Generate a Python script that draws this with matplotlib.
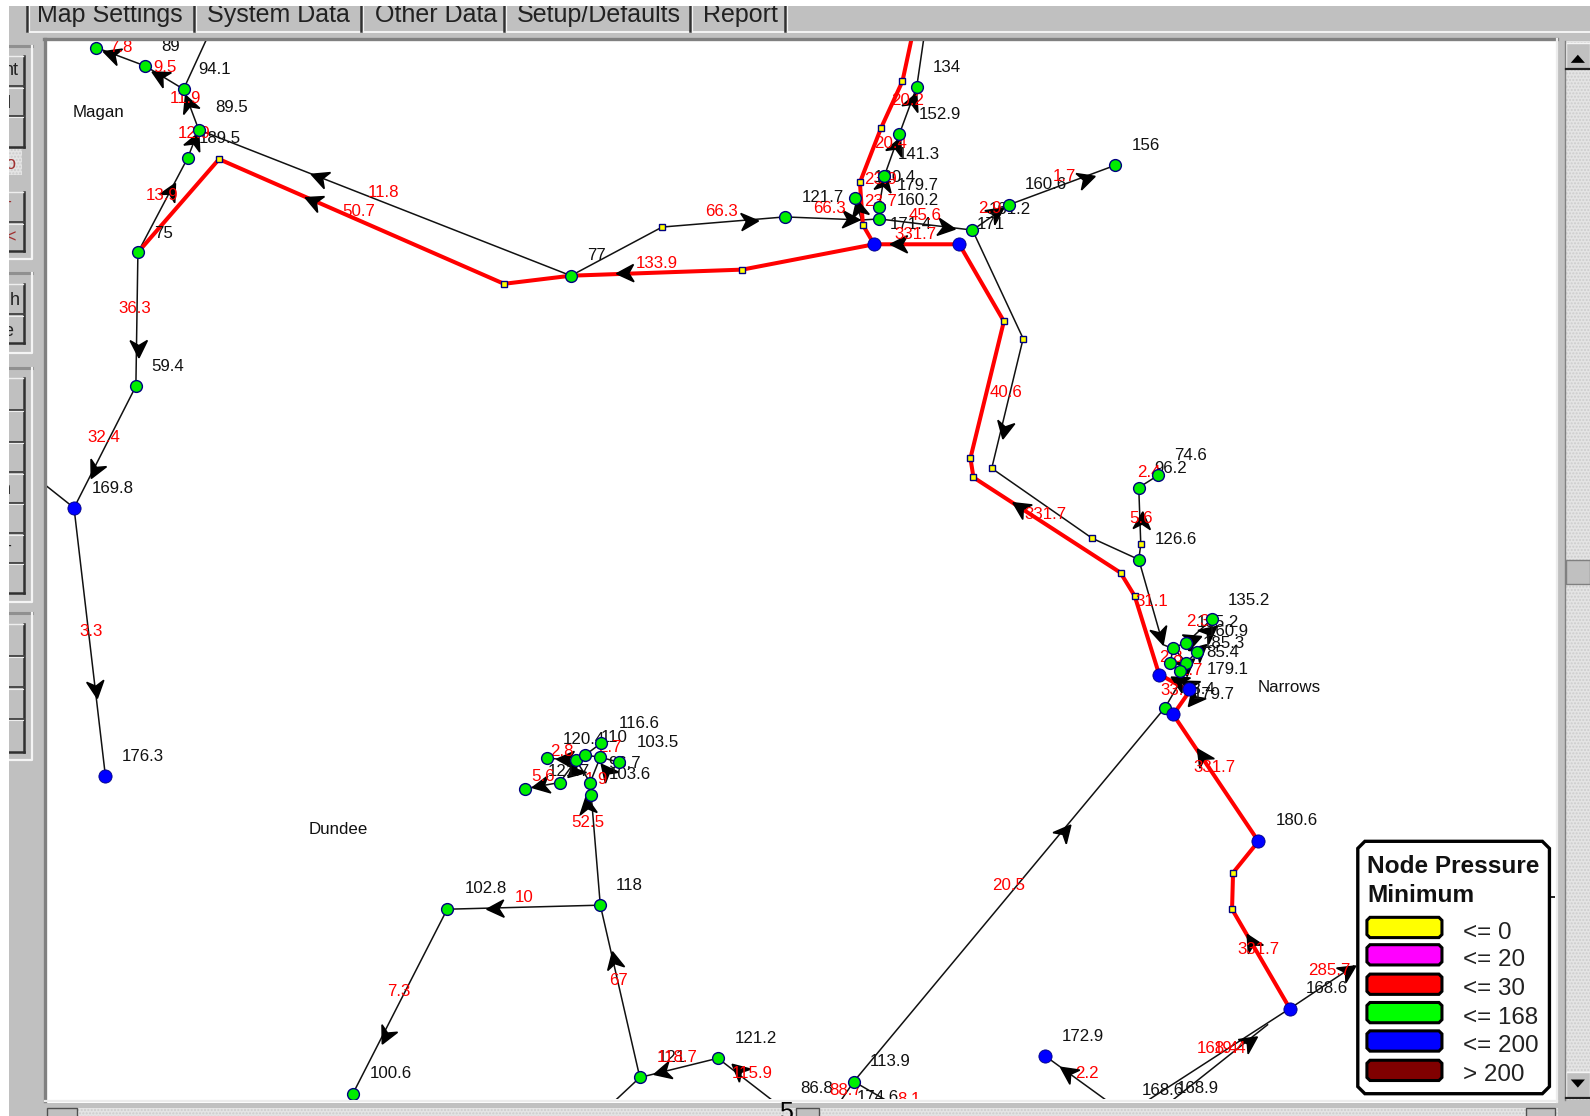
#!/usr/bin/env python3

import numpy as np
import matplotlib
matplotlib.use('Agg')
import matplotlib.pyplot as plt
from matplotlib.patches import Rectangle, Polygon

plt.rcParams['font.family'] = ['Liberation Sans', 'DejaVu Sans']

# map coordinates of the network
red_pipes = [
    [(136, 249), (216, 157), (497, 280), (563, 272), (732, 266), (862, 241), (946, 241), (990, 317),
     (957, 452), (960, 471), (1105, 565), (1119, 588), (1143, 665), (1173, 682), (1157, 705),
     (1241, 830), (1216, 861), (1215, 897), (1272, 995)],
    [(899, 38), (890, 80), (869, 126), (848, 180), (851, 222), (862, 241)],
]
black_pipes = [
    [(204, 38), (181, 88), (143, 65), (95, 47)],
    [(181, 88), (196, 128), (185, 156), (136, 249), (134, 381), (73, 501), (104, 766)],
    [(44, 478), (73, 501)],
    [(196, 128), (563, 272), (653, 224), (774, 214), (850, 217), (867, 216), (959, 227), (995, 202), (1100, 163)],
    [(959, 227), (1009, 334), (978, 462), (1077, 531), (1123, 552), (1147, 636), (1157, 640)],
    [(1123, 552), (1125, 537), (1123, 481), (1142, 469)],
    [(911, 38), (904, 86), (887, 132), (872, 174), (867, 204), (867, 216)],
    [(843, 195), (851, 222)],
    [(1170, 662), (1149, 698), (842, 1067), (885, 1092)],
    [(842, 1067), (825, 1092)],
    [(348, 1079), (441, 897), (592, 893), (631, 1063), (708, 1044), (770, 1092)],
    [(631, 1063), (600, 1092)],
    [(592, 893), (583, 784), (582, 772), (568, 750), (539, 748)],
    [(518, 778), (552, 772), (568, 750), (577, 745), (593, 733)],
    [(577, 745), (592, 747), (610, 752)],
    [(582, 772), (592, 747)],
    [(1031, 1042), (1100, 1092)],
    [(1335, 953), (1272, 995), (1122, 1092)],
    [(1250, 1011), (1148, 1092)],
    [(1157, 639), (1170, 634), (1195, 611)],
    [(1154, 654), (1170, 654), (1180, 643), (1170, 634)],
    [(1164, 662), (1170, 654), (1157, 639), (1154, 654), (1164, 662)],
    [(1143, 666), (1173, 680)],
]

junction_x = [216, 497, 653, 732, 890, 869, 848, 851, 990, 1009, 957, 960, 978, 1077, 1105, 1119, 1125, 1216, 1215]
junction_y = [157, 280, 224, 266, 80, 126, 180, 222, 317, 334, 452, 471, 462, 531, 565, 588, 537, 861, 897]

green_x = [95, 143, 181, 196, 185, 136, 134, 563, 774, 904, 887, 872, 843, 867, 867, 959, 995, 1100, 1123, 1142,
           1123, 1157, 1170, 1154, 1170, 1164, 1180, 1195, 1149, 592, 441, 348, 631, 708, 842,
           539, 518, 552, 568, 577, 593, 592, 610, 582, 583]
green_y = [47, 65, 88, 128, 156, 249, 381, 272, 214, 86, 132, 174, 195, 204, 216, 227, 202, 163, 481, 469,
           552, 639, 634, 654, 654, 662, 643, 611, 698, 893, 897, 1079, 1063, 1044, 1067,
           748, 778, 772, 750, 745, 733, 747, 752, 772, 784]
blue_x = [73, 104, 862, 946, 1143, 1173, 1157, 1241, 1272, 1031]
blue_y = [501, 766, 241, 241, 666, 680, 704, 830, 995, 1042]

# flow arrows: tip x, tip y, and a point back along the pipe
arrow_tip_x = [102, 150, 183, 196, 173, 307, 301, 137, 90, 96, 608, 748, 848, 878, 942, 990, 1080, 904, 888, 874,
               845, 989, 999, 1127, 1147, 1181, 1230, 1337, 1240, 1056, 604, 480, 377, 645, 722, 1046, 578,
               525, 549, 560, 593, 1155, 1172, 1165, 1200, 1185, 1178, 1190]
arrow_tip_y = [51, 71, 94, 131, 181, 172, 195, 353, 472, 689, 270, 218, 217, 241, 226, 205, 174, 92, 136, 172,
               197, 433, 496, 505, 636, 739, 922, 953, 1023, 814, 939, 897, 1030, 1060, 1050, 1053, 786,
               777, 749, 767, 754, 668, 697, 672, 618, 628, 650, 636]
arrow_from_x = [143, 181, 196, 185, 136, 563, 497, 136, 134, 73, 732, 653, 774, 946, 867, 959, 995, 887, 872, 867,
                851, 1009, 1105, 1125, 1123, 1241, 1272, 1272, 1150, 842, 631, 592, 441, 708, 762, 1092, 583,
                552, 570, 585, 610, 1173, 1190, 1180, 1180, 1170, 1164, 1170]
arrow_from_y = [65, 88, 128, 156, 249, 272, 280, 249, 381, 501, 266, 224, 214, 241, 216, 227, 202, 132, 174, 204,
                222, 334, 565, 537, 552, 830, 995, 995, 1085, 1067, 1063, 893, 897, 1044, 1085, 1085, 820,
                772, 750, 745, 775, 678, 675, 680, 634, 634, 662, 654]

black_text = ['89', '94.1', '89.5', '189.5', '75', '59.4', '169.8', '176.3', 'Magan', 'Dundee', 'Narrows', '77',
              '134', '152.9', '141.3', '120.4', '179.7', '160.2', '121.7', '171.4', '171', '160.6', '161.2', '156',
              '74.6', '96.2', '126.6', '135.2', '135.2', '160.9', '185.3', '85.4', '179.1', '18.4', '179.7',
              '180.6', '168.6', '118', '102.8', '100.6', '116.6', '103.5', '120.4', '110', '96.7', '103.6', '121.7',
              '121.2', '121', '113.9', '86.8', '174.6', '172.9', '168.6', '168.9']
black_text_x = [159, 196, 212, 196, 152, 149, 90, 120, 72, 304, 1240, 579,
                920, 906, 885, 862, 884, 884, 791, 877, 963, 1011, 975, 1116,
                1158, 1138, 1139, 1211, 1180, 1190, 1186, 1190, 1190, 1166, 1176,
                1258, 1288, 607, 458, 365, 610, 628, 555, 592, 600, 600, 540,
                725, 649, 858, 789, 845, 1047, 1126, 1160]
black_text_y = [44, 67, 105, 135, 229, 360, 480, 745, 109, 817, 677, 251,
                65, 111, 151, 174, 182, 196, 193, 220, 220, 181, 205, 142,
                448, 461, 531, 591, 613, 622, 633, 642, 659, 679, 684,
                808, 974, 872, 875, 1058, 712, 731, 728, 726, 752, 763, 760,
                1023, 1042, 1046, 1072, 1081, 1021, 1074, 1072]

red_text = ['7.8', '9.5', '11.9', '12.9', '13.9', '11.8', '50.7', '133.9', '66.3', '66.3', '20.2', '20.4', '23.9',
            '23.7', '45.6', '331.7', '2.9', '1.7', '40.6', '331.7', '2.4', '5.6', '31.1', '2.3', '2.8', '2.7',
            '33.1', '331.7', '331.7', '285.7', '20.5', '10', '7.3', '67', '52.5', '36.3', '32.4', '3.3',
            '2.8', '2.7', '5.6', '1.9', '118.7', '115.9', '88.7', '8.1', '2.2', '168.4', '19.4']
red_text_x = [108, 151, 167, 175, 144, 363, 338, 627, 695, 802, 879, 862, 852,
              852, 896, 882, 965, 1038, 976, 1010, 1121, 1114, 1120, 1170, 1143, 1163,
              1144, 1177, 1220, 1290, 978, 508, 382, 601, 563, 117, 86, 78,
              543, 590, 524, 577, 648, 722, 818, 885, 1060, 1180, 1197]
red_text_y = [45, 65, 96, 130, 191, 188, 207, 258, 207, 204, 98, 140, 176,
              197, 211, 230, 204, 173, 386, 506, 465, 510, 592, 612, 647, 660,
              680, 756, 935, 956, 872, 884, 977, 966, 810, 303, 430, 622,
              740, 736, 765, 768, 1042, 1058, 1074, 1083, 1058, 1033, 1033]

tab_names = ['Map Settings', 'System Data', 'Other Data', 'Setup/Defaults', 'Report']
tab_x = [36, 204, 370, 510, 693]
tab_edges = [27, 191, 356, 497, 680, 774]

legend_colors = ['#ffff00', '#ff00ff', '#ff0000', '#00ff00', '#0000ff', '#800000']
legend_labels = ['<= 0', '<= 20', '<= 30', '<= 168', '<= 200', '> 200']
legend_y = [915, 942, 971, 999, 1027, 1056]

# cut-off letters on the left hand toolbar buttons
side_letters = ['nt', 'l', 'o', '-', '<', 'h', 'e', 'n', '-']
side_x = [19, 11, 15, 11, 15, 19, 13, 11, 11]
side_y = [70, 102, 162, 200, 235, 296, 327, 483, 539]
side_colors = ['#222222', '#222222', '#a03030', '#a03030', '#a03030', '#222222', '#222222', '#222222', '#222222']
panels = [(45, 256), (269, 348), (363, 594), (605, 750)]
button_groups = [(55, 145, [85, 114]), (189, 248, [219]), (280, 338, [310]),
                 (373, 585, [404, 436, 466, 496, 526, 555]), (616, 742, [647, 678, 709])]

grey = '#c0c0c0'

fig = plt.figure(figsize=(15.9, 11.16), dpi=100)
ax = fig.add_axes([0, 0, 1, 1])
ax.set_xlim(0, 1568)
ax.set_ylim(1101, 0)
ax.axis('off')

# window chrome
ax.add_patch(Rectangle((0, 0), 1568, 1101, fc='white', ec='none'))
ax.add_patch(Rectangle((9, 6), 1559, 1095, fc=grey, ec='none'))
ax.add_patch(Rectangle((27, 30.5), 1541, 2, fc='#f2f2f2', ec='none'))
ax.add_patch(Rectangle((44, 38), 1491, 1050, fc='white', ec='none'))
ax.plot([43, 1535], [38.5, 38.5], color='#808080', lw=2.4)
ax.plot([44.5, 44.5], [38, 1086], color='#808080', lw=2.4)
ax.plot([1535, 1535], [38, 1087], color='#ececec', lw=1.6)
ax.plot([44, 1535], [1086, 1086], color='#ececec', lw=1.6)

for name, x in zip(tab_names, tab_x):
    ax.text(x, 22, name, fontsize=18, color='#222222', va='baseline', ha='left')
for x in tab_edges:
    ax.plot([x, x], [6, 31], color='#303030', lw=1.8)
    ax.plot([x + 2, x + 2], [6, 31], color='#f2f2f2', lw=0.9)

# toolbar groups
for top, bottom in panels:
    ax.plot([9, 32], [top, top], color='#909090', lw=2.2)
    ax.plot([32, 32, 9], [top, bottom, bottom], color='#f4f4f4', lw=1.6)
for top, bottom, splits in button_groups:
    ax.plot([24, 24], [top, bottom], color='#303030', lw=1.8)
    ax.plot([9, 24], [bottom, bottom], color='#303030', lw=1.8)
    ax.plot([9, 23], [top, top], color='#eeeeee', lw=1)
    for s in splits:
        ax.plot([9, 24], [s, s], color='#404040', lw=1.3)
        ax.plot([9, 23], [s + 1.5, s + 1.5], color='#eeeeee', lw=0.8)
ax.add_patch(Rectangle((9, 147), 13, 26, fc='#e4e4e4', ec='#cccccc', hatch='.....', lw=0))
for letter, x, y, col in zip(side_letters, side_x, side_y, side_colors):
    ax.text(x, y, letter, fontsize=13, color=col, va='center', ha='right')
ax.add_patch(Rectangle((0, 0), 9, 1101, fc='white', ec='none', zorder=10))
ax.add_patch(Rectangle((0, 0), 1568, 6, fc='white', ec='none', zorder=10))

# scrollbars
ax.add_patch(Rectangle((1543, 40), 25, 1045, fc='#e4e4e4', ec='#cccccc', hatch='.....', lw=0))
ax.plot([1543, 1543], [40, 1085], color='#808080', lw=1)
ax.add_patch(Rectangle((1544, 42), 24, 26, fc=grey, ec='#f4f4f4', lw=1))
ax.plot([1544, 1568], [68, 68], color='#202020', lw=1.6)
ax.add_patch(Rectangle((1544, 552), 24, 24, fc=grey, ec='#808080', lw=1))
ax.add_patch(Rectangle((1544, 1058), 24, 25, fc=grey, ec='#f4f4f4', lw=1))
ax.plot([1544, 1568], [1083, 1083], color='#202020', lw=1.6)
ax.add_patch(Polygon([(1549, 62), (1563, 62), (1556, 54)], fc='black', ec='none'))
ax.add_patch(Polygon([(1549, 1065), (1563, 1065), (1556, 1073)], fc='black', ec='none'))
ax.add_patch(Rectangle((46, 1093), 1490, 8, fc='#e4e4e4', ec='#cccccc', hatch='.....', lw=0))
for x0, x1 in [(46, 76), (785, 808), (1505, 1533)]:
    ax.add_patch(Rectangle((x0, 1093), x1 - x0, 10, fc=grey, ec='#505050', lw=1))
ax.text(775, 1105, '5', fontsize=18, color='black', ha='center', va='baseline', clip_on=True)

# map area, axis limits are the same picture coordinates
ax_map = fig.add_axes([46 / 1568, 1 - 1084 / 1101, (1533 - 46) / 1568, (1084 - 40) / 1101])
ax_map.set_xlim(46, 1533)
ax_map.set_ylim(1084, 40)
ax_map.axis('off')

for pipe in black_pipes:
    xs, ys = zip(*pipe)
    ax_map.plot(xs, ys, color='#111111', lw=1.1, zorder=2, solid_joinstyle='round')
for pipe in red_pipes:
    xs, ys = zip(*pipe)
    ax_map.plot(xs, ys, color='#ff0000', lw=2.9, zorder=3, solid_joinstyle='round')

ax_map.plot(junction_x, junction_y, ls='none', marker='s', ms=4.2, mfc='#ffff00', mec='#000080', mew=1, zorder=4)

for tx, ty, fx, fy in zip(arrow_tip_x, arrow_tip_y, arrow_from_x, arrow_from_y):
    d = np.array([tx - fx, ty - fy], dtype=float)
    d = d / np.hypot(d[0], d[1])
    n = np.array([-d[1], d[0]])
    tip = np.array([tx, ty])
    ax_map.add_patch(Polygon([tip, tip - 17 * d + 8.5 * n, tip - 12 * d, tip - 17 * d - 8.5 * n],
                             fc='black', ec='black', lw=1.1, zorder=5))

for tx, ty, s in zip(black_text_x, black_text_y, black_text):
    ax_map.text(tx, ty + 1.5, s, fontsize=12.2, color='#111111', va='center', ha='left', zorder=6, clip_on=True)
for tx, ty, s in zip(red_text_x, red_text_y, red_text):
    ax_map.text(tx, ty + 1.5, s, fontsize=12.2, color='#ff0000', va='center', ha='left', zorder=6, clip_on=True)

ax_map.plot(green_x, green_y, ls='none', marker='o', ms=8.5, mfc='#00ee00', mec='#000080', mew=1, zorder=7)
ax_map.plot(blue_x, blue_y, ls='none', marker='o', ms=9.5, mfc='#0000ff', mec='#000080', mew=0.6, zorder=7)

# legend box
ax_map.plot([1528, 1533], [885, 885], color='black', lw=1.2, zorder=8)
ax_map.add_patch(Polygon([(1346, 830), (1521, 830), (1528, 837), (1528, 1072), (1521, 1079), (1346, 1079),
                          (1339, 1072), (1339, 837)], fc='white', ec='black', lw=2.4, zorder=8))
ax_map.text(1348, 855, 'Node Pressure', fontsize=17.6, fontweight='bold', color='#111111', va='center', zorder=9)
ax_map.text(1348, 883, 'Minimum', fontsize=17.6, fontweight='bold', color='#111111', va='center', zorder=9)
for y, col, lab in zip(legend_y, legend_colors, legend_labels):
    ax_map.add_patch(Polygon([(1351, y - 10), (1419, y - 10), (1422, y - 7), (1422, y + 7), (1419, y + 10),
                              (1351, y + 10), (1348, y + 7), (1348, y - 7)], fc=col, ec='black', lw=2.2, zorder=9))
    ax_map.text(1443, y + 5, lab, fontsize=17.4, color='#222222', va='center', ha='left', zorder=9)

plt.savefig('out.png', dpi=100)
